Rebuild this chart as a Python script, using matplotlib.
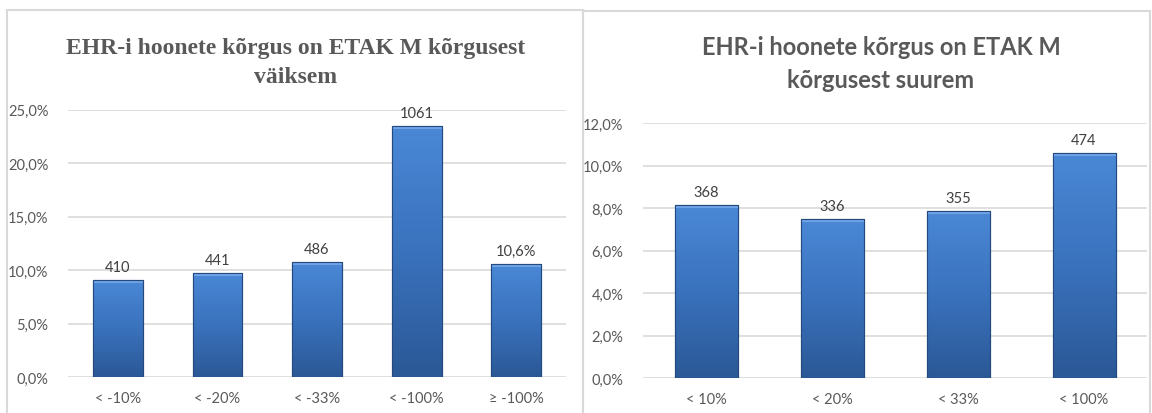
import matplotlib.pyplot as plt
import numpy as np
from matplotlib.patches import Rectangle
from matplotlib.colors import LinearSegmentedColormap
from matplotlib import font_manager

# left panel: EHR height smaller than ETAK M
left_title = 'EHR-i hoonete kõrgus on ETAK M kõrgusest\nväiksem'
left_cats = ['< -10%', '< -20%', '< -33%', '< -100%', '≥ -100%']
left_vals = [9.07, 9.76, 10.75, 23.5, 10.6]
left_labels = ['410', '441', '486', '1061', '10,6%']
left_ticks = [0, 5, 10, 15, 20, 25]

# right panel: EHR height larger than ETAK M
right_title = 'EHR-i hoonete kõrgus on ETAK M\nkõrgusest suurem'
right_cats = ['< 10%', '< 20%', '< 33%', '< 100%']
right_vals = [8.14, 7.48, 7.88, 10.6]
right_labels = ['368', '336', '355', '474']
right_ticks = [0, 2, 4, 6, 8, 10, 12]

installed = {f.name for f in font_manager.fontManager.ttflist}
serif_font = [f for f in ['Liberation Serif', 'Times New Roman', 'DejaVu Serif'] if f in installed]
narrow_font = [f for f in ['Liberation Sans Narrow', 'Lato', 'DejaVu Sans'] if f in installed]

W, H = 1152, 414
fig = plt.figure(figsize=(W / 100, H / 100), dpi=100)
fig.patch.set_facecolor('white')

grey = '#595959'

# panel frames
for x0, x1, y0 in [(7, 583, 11), (583, 1150, 12)]:
    fig.add_artist(Rectangle((x0 / W, -0.05), (x1 - x0) / W, (H - y0) / H + 0.05,
                             transform=fig.transFigure, fill=False,
                             edgecolor='#d9d9d9', linewidth=1.5))

# vertical gradient for bars: light at top, dark at bottom
grad = np.linspace(1, 0, 256).reshape(-1, 1)
bar_cmap = LinearSegmentedColormap.from_list('bars', ['#2b5896', '#3a72bd', '#4a88d6'])


def draw_panel(rect, cats, vals, labels, ticks, ymax, title, title_font, title_size, title_y, title_cx):
    ax = fig.add_axes(rect)
    x = np.arange(len(cats))
    bars = ax.bar(x, vals, width=0.5, color='#3b74c0', edgecolor='#244f88', linewidth=0.8, zorder=3)
    for b in bars:
        bx, by = b.get_x(), b.get_y()
        bw, bh = b.get_width(), b.get_height()
        im = ax.imshow(grad, cmap=bar_cmap, aspect='auto', extent=[bx, bx + bw, by, by + bh],
                       zorder=3.5, interpolation='bicubic')
        im.set_clip_path(b)
        # bevel highlight on top edge
        ax.add_patch(Rectangle((bx, by + bh - ymax * 0.012), bw, ymax * 0.012,
                               facecolor='#6fa3e6', edgecolor='none', zorder=3.6))
        ax.add_patch(Rectangle((bx, by), bw, bh, fill=False, edgecolor='#23497d',
                               linewidth=0.8, zorder=3.7))
    for xi, v, lab in zip(x, vals, labels):
        ax.text(xi, v + ymax * 0.022, lab, ha='center', va='bottom', fontsize=10.5,
                color='#404040', family=narrow_font)
    ax.set_xlim(-0.5, len(cats) - 0.5)
    ax.set_ylim(0, ymax)
    ax.set_yticks(ticks)
    ax.set_yticklabels([('%.1f%%' % t).replace('.', ',') for t in ticks],
                       family=narrow_font, fontsize=10.5, color=grey)
    ax.set_xticks(x)
    ax.set_xticklabels(cats, family=narrow_font, fontsize=10.5, color=grey)
    ax.tick_params(length=0, pad=14, axis='y')
    ax.tick_params(length=0, pad=10, axis='x')
    ax.grid(axis='y', color='#d9d9d9', linewidth=1.2, zorder=0)
    for s in ax.spines.values():
        s.set_visible(False)
    ax.set_axisbelow(True)
    fig.text(title_cx / W, title_y, title, ha='center', va='center', fontsize=title_size,
             fontweight='bold', color=grey, family=title_font, linespacing=1.5)
    return ax


draw_panel([68 / W, 36 / H, (566 - 68) / W, (378 - 110.5) / H], left_cats, left_vals,
           left_labels, left_ticks, 25, left_title, serif_font, 17, (H - 63) / H, 296)
draw_panel([643 / W, 35 / H, (1147 - 643) / W, (379 - 124) / H], right_cats, right_vals,
           right_labels, right_ticks, 12, right_title, ['Lato', 'DejaVu Sans'], 17, (H - 64) / H, 881)

fig.savefig('out.png', dpi=100, facecolor='white')
